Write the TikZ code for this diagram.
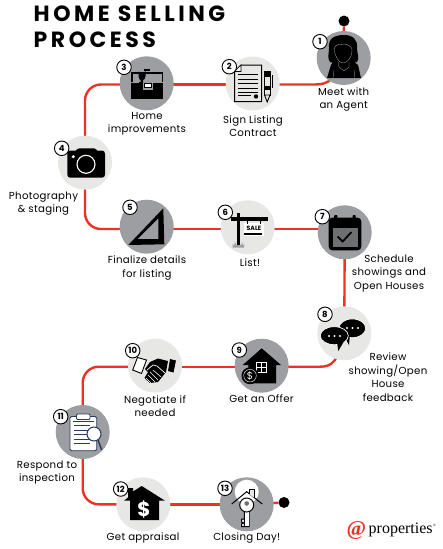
\documentclass[tikz,border=0pt]{standalone}
\usepackage{fontspec}
\setmainfont{Poppins}
\newfontfamily\titlefont[LetterSpace=16]{Poppins}
\newfontfamily\lblfont[LetterSpace=3]{Poppins}
\newfontfamily\logofont{Liberation Serif}
\usetikzlibrary{backgrounds}
\definecolor{rd}{HTML}{EE3124}
\definecolor{dk}{HTML}{9D9EA2}
\definecolor{lt}{HTML}{E7E7E5}
\definecolor{nv}{HTML}{2B3A5E}
\tikzset{
 dkc/.style={circle,fill=dk,minimum size=54pt,inner sep=0pt},
 ltc/.style={circle,fill=lt,minimum size=54pt,inner sep=0pt},
 badge/.style={circle,draw=black,line width=0.9pt,fill=white,minimum size=14.5pt,inner sep=0pt,font=\fontsize{8.5}{8.5}\selectfont\bfseries},
 lbl/.style={align=center,inner sep=0pt,font=\lblfont\fontsize{10.2}{13.5}\selectfont},
 conn/.style={draw=rd,line width=2.4pt,rounded corners=16pt},
 curveconn/.style={draw=rd,line width=2.4pt},
 dot/.style={circle,fill=black,minimum size=11pt,inner sep=0pt},
}
\begin{document}
\begin{tikzpicture}[x=1pt,y=-1pt]
\useasboundingbox (0,0) rectangle (442,549);
% title
\node[anchor=west,inner sep=0pt,font=\titlefont\fontsize{22}{22}\selectfont\bfseries] (t1) at (33.5,13.5) {HOME SELLING};
\node[anchor=west,inner sep=0pt,font=\titlefont\fontsize{22}{22}\selectfont\bfseries] (t2) at (33.5,40) {PROCESS};
% circles
\node[dkc] (c1) at (343.7,58) {};
\node[ltc] (c2) at (252.7,83.5) {};
\node[dkc] (c3) at (146.7,83.3) {};
\node[ltc] (c4) at (85,162.7) {};
\node[dkc] (c5) at (146.7,226.7) {};
\node[ltc] (c6) at (247.7,227.3) {};
\node[dkc] (c7) at (344.7,232.3) {};
\node[ltc] (c8) at (344.3,333.3) {};
\node[dkc] (c9) at (261.7,365.7) {};
\node[ltc] (c10) at (155,365.7) {};
\node[dkc] (c11) at (82.7,432) {};
\node[ltc] (c12) at (143.3,504.3) {};
\node[dkc] (c13) at (246.7,504.3) {};
\node[dot] (s) at (344,21) {};
\node[dot] (e) at (284,502.5) {};
\coordinate (k1) at (315,84.5);
\coordinate (k2) at (320,366.7);
% connectors
\begin{pgfonlayer}{background}
\draw[conn] (s) -- (c1);
\draw[curveconn] (c1.center) .. controls (335,80) and (328,84.5) .. (k1) -- (c2.center |- k1);
\draw[conn] (c2.center |- k1) -- (c3.center |- k1);
\draw[conn] (c3.center |- k1) -| (c4.center);
\draw[conn] (c4.center) |- (c5.center |- 0,229);
\draw[conn] (c5.center |- 0,229) -- (c7.center |- 0,229);
\draw[conn] (c7.center) -- (c8.center);
\draw[curveconn] (c8.center) .. controls (338,362) and (332,366.7) .. (k2) -- (c9.center |- k2);
\draw[conn] (c9.center |- k2) -- (c10.center |- k2);
\draw[conn] (c10.center |- k2) -| (c11.center);
\draw[conn] (c11.center) |- (c12.center);
\draw[conn] (c12.center) -- (c13.center);
\draw[conn] (c13.center) -- (e);
\end{pgfonlayer}
% labels
\node[lbl] (l1) at (343.7,99.5) {Meet with\\an Agent};
\node[lbl] (l2) at (253,126) {Sign Listing\\Contract};
\node[lbl] (l3) at (147,124) {Home\\improvements};
\node[lbl] (l4) at (43.5,203.5) {Photography\\\& staging};
\node[lbl] (l5) at (147,268) {Finalize details\\for listing};
\node[lbl] (l6) at (250,263) {List!};
\node[lbl] (l7) at (389,273.5) {Schedule\\showings and\\Open Houses};
\node[lbl] (l8) at (388,377) {Review\\showing/Open\\House\\feedback};
\node[lbl] (l9) at (261.5,399) {Get an Offer};
\node[lbl] (l10) at (155,406) {Negotiate if\\needed};
\node[lbl] (l11) at (47,472.5) {Respond to\\inspection};
\node[lbl] (l12) at (143,538) {Get appraisal};
\node[lbl] (l13) at (246.7,538) {Closing Day!};
% icon 1 agent
\fill (329,48) .. controls (328,38) and (335,35) .. (344,35) .. controls (353,35) and (358,40) .. (357,48) .. controls (357,54) and (360,58) .. (357,62) -- (350,64) -- (338,64) -- (330,62) .. controls (327,58) and (329,54) .. (329,48) -- cycle;
\fill (333,62) -- (354,62) -- (358,65) -- (361,78) -- (327,78) -- (331,65) -- cycle;
\draw[dk,line width=.35pt] (334,49) .. controls (336,43) and (340,45) .. (345,44) .. controls (349,45) and (352,47) .. (352,50) .. controls (352,58) and (347,63) .. (343,63) .. controls (339,63) and (335,57) .. (334,49) -- cycle;
\draw[dk,line width=.35pt] (338,62) -- (339,67) -- (344,71) -- (349,67) -- (349,62);
\draw[dk,line width=.35pt] (334,70) -- (333,78) (354,70) -- (355,78);
% icon 2 contract
\draw[line width=1pt,fill=lt] (241,65) -- (261.5,65) -- (261.5,101.5) -- (234.5,101.5) -- (234.5,71.5) -- cycle;
\draw[line width=.7pt,fill=white] (234.5,71.5) -- (241,71.5) -- (241,65) -- cycle;
\foreach \yy in {74.5,79,83.5,88,92.5} \draw[line width=1pt] (238,\yy) -- (258,\yy);
\draw[line width=1pt] (238,95.5) -- (251,95.5);
\fill (256,96.5) circle (2.2pt);
\draw[line width=.9pt,fill=lt] (264.5,72) rectangle (270,95);
\fill (264,71) rectangle (270.5,77);
\fill (264,86) rectangle (270.5,90);
\draw[line width=.9pt,fill=lt] (264.5,95) -- (270,95) -- (267.2,102) -- cycle;
\draw[line width=.9pt] (272.5,75) -- (272.5,88);
% icon 3 toolbox
\fill (131,82.7) rectangle (163.3,99.3);
\draw[line width=1.6pt] (132,82) -- (132,73) -- (162.5,73) -- (162.5,82);
\fill (143.5,69) rectangle (150,71);
\fill[dk] (142.5,82) rectangle (153,89.5);
\fill (144,83) rectangle (152,88);
\fill[white] (145,83.6) rectangle (151,87.4);
\fill[dk] (136,73.8) rectangle (158,81.5);
\fill (139,82) rectangle (142,82.7);
\fill (138.5,71) -- (138.5,76) .. controls (138.5,79) and (140,79.5) .. (140.5,80) -- (140.5,83) -- (143,83) -- (143,80) .. controls (144,79.5) and (145.5,79) .. (145.5,76) -- (145.5,71) -- (143.5,73) -- (140.5,73) -- cycle;
% icon 4 camera
\fill[rounded corners=3pt] (67.3,150.5) rectangle (105,177.7);
\fill[rounded corners=2pt] (77,148.3) -- (96,148.3) -- (98,152) -- (75,152) -- cycle;
\draw[white,line width=1.1pt] (86,164.3) circle (9pt);
\fill[white] (73.3,156.7) circle (1.7pt);
% icon 5 square
\fill[even odd rule] (128.3,245) -- (163.3,208.3) -- (164.3,244.3) -- cycle (137.7,239) -- (158.3,239) -- (158.3,218.3) -- cycle;
\foreach \i in {0,...,8} \draw[dk,line width=.5pt] ({134.2+\i*3.1},{237.5-\i*3.2}) -- ++(-1.5,-1.5);
% icon 6 sale
\fill (237.3,212.7) rectangle (240,245);
\fill (230.7,217.3) rectangle (268.3,220.7);
\fill[white] (244,223) rectangle (264,236);
\fill (244,233.4) rectangle (262,234.6);
\draw[line width=.6pt] (247,220) -- (247,223.5) (260,220) -- (260,223.5);
\node[inner sep=0pt,font=\fontsize{6.2}{6.2}\selectfont\bfseries] (sale) at (254,228.3) {SALE};
\fill[dk] (232.5,247.5) -- (232.5,243.5) -- (234,246) -- (235,242) -- (236.5,245) -- (241,245) -- (242,242) -- (243,246) -- (244.5,243.5) -- (244,247.5) -- cycle;
% icon 7 calendar
\draw[line width=2.6pt,rounded corners=2.5pt,fill=black] (330,219) rectangle (360,249);
\fill[black!30!dk] (332.5,227.7) rectangle (357.5,246.7);
\fill[rounded corners=.8pt] (334.2,215) rectangle (337.4,220);
\fill[rounded corners=.8pt] (352.5,215) rectangle (355.7,220);
\draw[line width=1.7pt] (337.7,236.5) -- (342.7,241.5) -- (351.5,232);
% icon 8 bubbles
\draw[white,line width=.7pt,fill=black] (352.3,328.3) ellipse (13.4pt and 9.4pt);
\fill (342,332) -- (349,345) -- (350,334) -- cycle;
\draw[white,line width=.7pt,fill=black] (334.3,335.7) ellipse (14pt and 9pt);
\fill (337,342) -- (338.3,351) -- (346,338) -- cycle;
\foreach \xx in {347,352.5,358} \fill[white] (\xx,328) circle (1.1pt);
\foreach \xx in {329,334.5,340} \fill[white] (\xx,336) circle (1.1pt);
% icon 9 offer
\fill (261.7,348.3) -- (281,365) -- (276,365) -- (276,383.3) -- (248.3,383.3) -- (248.3,365) -- (242.7,365) -- cycle;
\draw[white,line width=.7pt] (256.7,362.7) rectangle (266.7,372.7) (261.7,362.7) -- (261.7,372.7) (256.7,367.7) -- (266.7,367.7);
\fill (250,375.7) circle (8.5pt);
\draw[white,line width=.4pt] (250,375.7) circle (6.3pt);
\node[white,inner sep=0pt,font=\fontsize{10}{10}\selectfont] (cash) at (250,375.7) {\$};
% icon 10 handshake
\draw[line width=.9pt,fill=white] (137.5,357.5) -- (146.5,360) -- (141.5,373.5) -- (132.7,370) -- cycle;
\fill (170,359) -- (176,360.5) -- (173.5,372.5) -- (168,371) -- cycle;
\fill (150,362) -- (158,358.5) -- (168,361) -- (166,372) -- (158,382) -- (150,383) -- (144.5,378) -- (148,372) -- (145,369) -- cycle;
\draw[white,line width=.7pt] (147,370) -- (153,365) -- (157,366) -- (165,373);
\draw[white,line width=.6pt] (150,372) -- (158,380) (148,375) -- (155,382) (153,370) -- (161,377) (146,378) -- (151,383);
% icon 11 clipboard
\draw[nv,line width=.9pt,fill=white,rounded corners=1.5pt] (70,416.5) rectangle (96.7,450.7);
\draw[nv,line width=.9pt,fill=white,rounded corners=1pt] (76.5,414) rectangle (90,419.5);
\draw[nv,line width=.8pt] (72.5,421.5) -- (94,421.5);
\foreach \yy in {425.5,430,434.5,439,443.5} \draw[nv,line width=.7pt] (73.5,\yy) -- (90,\yy);
\draw[nv,line width=1.5pt] (98,440) -- (101.7,450);
\draw[nv,line width=1pt,fill=white] (94,434) circle (7pt);
% icon 12 appraisal
\fill (141.7,486) -- (165,500.7) -- (159,500.7) -- (159,520) -- (130,520) -- (130,500.7) -- (124,500.7) -- (128,497.5) -- (128,488) -- (133,488) -- (133,491.5) -- cycle;
\node[white,inner sep=0pt,font=\fontsize{20}{20}\selectfont\bfseries] (price) at (144,509) {\$};
% icon 13 key
\fill[white] (246.7,491.7) circle (12pt);
\draw[line width=1pt] (231.7,504) -- (246.7,491.7) -- (262.3,504);
\draw[line width=.8pt,fill=lt] (249,494) -- (249,489) -- (254.5,489) -- (254.5,498);
\draw[line width=1pt,fill=white] (244.3,510.5) -- (244.3,526.5) -- (241.5,526.5) -- (241.5,524) -- (243.5,523) -- (241.5,522) -- (241.5,519) -- (244.3,519) (249,510.5) -- (249,526.5) -- (244.3,526.5);
\fill[white] (244.8,510) rectangle (248.5,526);
\draw[line width=1pt,fill=white] (246.7,505) circle (7pt);
\fill[dk!70!black] (246.7,503.5) circle (2.3pt);
% badges
\node[badge] (b1) at (320,41.7) {1};
\node[badge] (b2) at (229.3,66.7) {2};
\node[badge] (b3) at (124,67.3) {3};
\node[badge] (b4) at (61.7,148.3) {4};
\node[badge] (b5) at (130,207.3) {5};
\node[badge] (b6) at (225.3,212.3) {6};
\node[badge] (b7) at (322.3,216.7) {7};
\node[badge] (b8) at (325,314.3) {8};
\node[badge] (b9) at (239.3,350) {9};
\node[badge] (b10) at (132.7,350.7) {10};
\node[badge] (b11) at (60.7,416.7) {11};
\node[badge] (b12) at (120.7,489) {12};
\node[badge] (b13) at (225,488.3) {13};
% logo
\node[inner sep=0pt,text=rd,font=\logofont\fontsize{21}{21}\selectfont\bfseries] (at) at (356.5,530) {@};
\node[anchor=west,inner sep=0pt,font=\logofont\fontsize{16}{16}\selectfont] (prop) at (368.5,530) {properties};
\node[anchor=west,inner sep=0pt,font=\logofont\fontsize{3.5}{3.5}\selectfont] (reg) at (433,525.5) {®};
\end{tikzpicture}
\end{document}
